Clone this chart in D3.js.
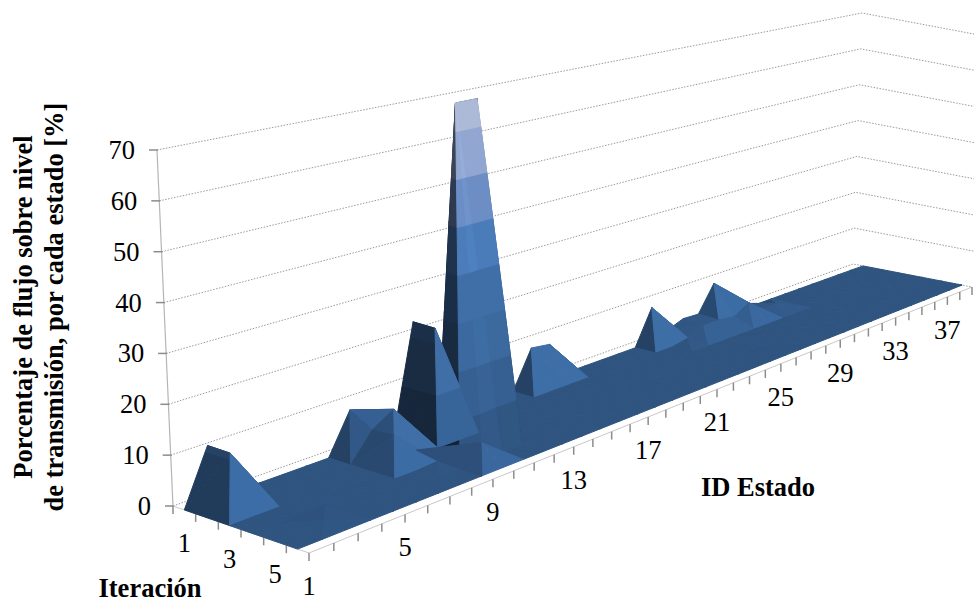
<!DOCTYPE html>
<html>
<head>
<meta charset="utf-8">
<script src="https://cdn.jsdelivr.net/npm/d3@7/dist/d3.min.js"></script>
<style>
html,body{margin:0;padding:0;background:#fff;}
svg{display:block;}
text{font-family:"Liberation Serif",serif;fill:#000;}
</style>
</head>
<body>
<svg id="chart" width="974" height="600"></svg>
<script>
// Flow percentage over transmission level, per state and iteration
const iterationLabels = [1, 2, 3, 4, 5, 6];
const shownIterations = [1, 3, 5];
const stateIds = d3.range(1, 40);
const shownStates = [1, 5, 9, 13, 17, 21, 25, 29, 33, 37];
const valueTicks = [0, 10, 20, 30, 40, 50, 60, 70];

const iteration1 = [0,11,0,0,0,0,0,8.5,0,0,23,0,0,0,0,0,8.6,8,0,0,0,0,0,8.5,1.5,3,2.8,9.3,3.4,1.5,0,0,0,0,0,0,0,0,0];
const iteration2 = [0,11,0,0,0,0,0,5.7,8.5,0,23,0,0,0,0,0,0,0,0,0,0,0,0,0,0.8,2.5,2.5,2,4.2,1,1.3,0,0,0,0,0,0,0,0];
const iteration3 = [0,0,0,0,0,0,0,6,1.2,0,0,0,0,0,0,0,0,0,0,0,0,0,0,0,0,0,0,0,0,0,0,0,0,0,0,0,0,0,0];
const iteration4 = [0,0,0,0,0,0,0,0,0.3,76,76,0,0,0,0,0,0,0,0,0,0,0,0,0,0,0,0,0,0,0,0,0,0,0,0,0,0,0,0];
const iteration5 = [0,0,0.3,0,0,0,0,0,0,4,0,0,0,0,0,0,0,0,0,0,0,0,0,0,0,0,0,0,0,0,0,0,0,0,0,0,0,0,0];
const iteration6 = [0,0,0,0,0,0,0,0,0,0,0,0,0,0,0,0,0,0,0,0,0,0,0,0,0,0,0,0,0,0,0,0,0,0,0,0,0,0,0];
const surface = [iteration1, iteration2, iteration3, iteration4, iteration5, iteration6];

// One colour per 10-point value band; lit faces stay below the ceiling colour
const bandColors = ["#2f5480", "#355e8e", "#3b679b", "#3f6fa8", "#4a7ab6", "#6a8bc1", "#8ea4cd", "#a9b6d4"];
const litCeiling = "#406ea6";
const footColor = "#2d4f79";

const svg = d3.select("#chart");

// Floor corners of the box on screen
const backLeft = [173, 506], frontLeft = [309, 553], frontRight = [972, 287], backRight = [853, 264];
const perspective = 1.44;

const uBand = d3.scaleBand().domain(iterationLabels).range([0, 1]);
const vPoint = d3.scalePoint().domain(stateIds).range([0, 1]);
const hScale = d3.scaleLinear().domain([0, 70]).range([0, 1]);

function project(u, v, h) {
  const t = perspective * v / (perspective * v + 1 - v);
  const lerp = k =>
    backLeft[k] * (1 - t) * (1 - u) + backRight[k] * t * (1 - u) +
    frontLeft[k] * (1 - t) * u + frontRight[k] * t * u;
  const x = lerp(0), y = lerp(1);
  const rise = (356 - 105 * t) * h;
  return [x + rise * (x - 551) * 0.000119, y - rise];
}

const uOf = i => uBand(iterationLabels[i]) + uBand.bandwidth() / 2;
const surfacePoint = p => project(p.i / iterationLabels.length + uOf(0), p.s / (stateIds.length - 1), hScale(p.z));

// Walls: value gridlines, then the floor edges
const gridPath = d3.line();
svg.append("g").selectAll("path").data(valueTicks).join("path")
  .attr("d", d => gridPath([project(0, 0, hScale(d)), project(0, 1, hScale(d)), project(1, 1, hScale(d))]))
  .attr("fill", "none").attr("stroke", "#808080").attr("stroke-width", 0.8).attr("stroke-dasharray", "1.5 1.5");

// Value axis
const axisZ = svg.append("g");
axisZ.append("path")
  .attr("d", gridPath([project(0, 0, 0), project(0, 0, hScale(70))]))
  .attr("fill", "none").attr("stroke", "#b5b5b5").attr("stroke-width", 1.2);
axisZ.selectAll("line").data(valueTicks).join("line")
  .attr("x1", d => project(0, 0, hScale(d))[0] - 8)
  .attr("x2", d => project(0, 0, hScale(d))[0] + 1)
  .attr("y1", d => project(0, 0, hScale(d))[1])
  .attr("y2", d => project(0, 0, hScale(d))[1])
  .attr("stroke", "#8c8c8c").attr("stroke-width", 1.5);
axisZ.selectAll("text").data(valueTicks).join("text")
  .attr("x", d => project(0, 0, hScale(d))[0] - 22)
  .attr("y", d => project(0, 0, hScale(d))[1] + 9)
  .attr("text-anchor", "end").attr("font-size", 26.5).text(d => d);

// Floor edge lines and tick marks
const floorAxis = svg.append("g");
floorAxis.append("path")
  .attr("d", gridPath([project(0, 0, 0), project(1, 0, 0), project(1, 1, 0)]))
  .attr("fill", "none").attr("stroke", "#c8c8c8").attr("stroke-width", 1);
floorAxis.selectAll("line.iter").data(d3.range(0, iterationLabels.length)).join("line")
  .attr("class", "iter")
  .attr("x1", d => project(d / iterationLabels.length, 0, 0)[0])
  .attr("x2", d => project(d / iterationLabels.length, 0, 0)[0])
  .attr("y1", d => project(d / iterationLabels.length, 0, 0)[1])
  .attr("y2", d => project(d / iterationLabels.length, 0, 0)[1] + 8)
  .attr("stroke", "#8c8c8c").attr("stroke-width", 1.5);
floorAxis.selectAll("line.state").data(stateIds).join("line")
  .attr("class", "state")
  .attr("x1", d => project(1, vPoint(d), 0)[0])
  .attr("x2", d => project(1, vPoint(d), 0)[0])
  .attr("y1", d => project(1, vPoint(d), 0)[1])
  .attr("y2", d => project(1, vPoint(d), 0)[1] + 8)
  .attr("stroke", "#8c8c8c").attr("stroke-width", 1.5);

// Keep only the part of a triangle inside one value band
function clipBand(poly, lo, hi) {
  const clip = (pts, keep, limit) => {
    const out = [];
    pts.forEach((p, k) => {
      const q = pts[(k + 1) % pts.length];
      const pin = keep(p.z), qin = keep(q.z);
      if (pin) out.push(p);
      if (pin !== qin) {
        const r = (limit - p.z) / (q.z - p.z);
        out.push({ i: p.i + (q.i - p.i) * r, s: p.s + (q.s - p.s) * r, z: limit });
      }
    });
    return out;
  };
  return clip(clip(poly, z => z >= lo, lo), z => z <= hi, hi);
}

// Directional shading from the face normal
function shade(a, b, c) {
  const zs = 0.1;
  const e1 = [b.i - a.i, b.s - a.s, (b.z - a.z) * zs];
  const e2 = [c.i - a.i, c.s - a.s, (c.z - a.z) * zs];
  let n = [e1[1] * e2[2] - e1[2] * e2[1], e1[2] * e2[0] - e1[0] * e2[2], e1[0] * e2[1] - e1[1] * e2[0]];
  const len = Math.hypot(...n) || 1;
  n = n.map(d => d / len);
  if (n[2] < 0) n = n.map(d => -d);
  return Math.max(0.42, 0.11 + 0.8 * n[0] + 0.89 * n[2] + 0.6 * Math.max(n[1], 0));
}

function tint(color, factor, band) {
  const c = d3.rgb(color), top = d3.rgb(litCeiling);
  const limit = (v, cap) => Math.min(band <= 3 ? Math.max(cap, v) : 255, v * factor);
  return d3.rgb(limit(c.r, top.r), limit(c.g, top.g), limit(c.b, top.b)).formatHex();
}

// Paint groups: far floor, tall column, the ridges overlapping it, then the near states
const paintGroup = (i, s) => s >= 11 ? 0 : s >= 8 ? (i >= 2 ? 1 : 2) : 3;
const cells = [];
for (let s = 0; s < stateIds.length - 1; s++) {
  for (let i = 0; i < iterationLabels.length - 1; i++) cells.push({ i, s });
}
cells.sort((p, q) => d3.ascending(paintGroup(p.i, p.s), paintGroup(q.i, q.s)) || d3.descending(p.s, q.s) || d3.ascending(p.i, q.i));

// Each cell folds along its higher diagonal, except two cells around the tall column
const flippedFold = (i, s) => (i === 2 && s === 8) || (i === 3 && s === 9);
const vertex = (i, s) => ({ i, s, z: surface[i][s] });
const facets = [];
cells.forEach(({ i, s }) => {
  const a = vertex(i, s), b = vertex(i + 1, s), c = vertex(i + 1, s + 1), d = vertex(i, s + 1);
  const mainFold = (a.z + c.z >= b.z + d.z) !== flippedFold(i, s);
  const tris = mainFold ? [[a, d, c], [a, c, b]] : [[a, b, d], [b, c, d]];
  tris.forEach(tri => {
    const f = shade(tri[0], tri[1], tri[2]);
    bandColors.forEach((col, k) => {
      const piece = clipBand(tri, k * 10, (k + 1) * 10);
      if (piece.length >= 3) facets.push({ piece, color: tint(col, f, k) });
    });
  });
});

// Low foot of the tall column, spanning iterations 3 to 6 around states 9 and 10
const footIteration = [2, 4, 5, 3];
const footState = [8, 9, 8, 8];
facets.push({ piece: footIteration.map((it, k) => vertex(it, footState[k])), color: footColor });

const facetPath = d3.line().x(p => p[0]).y(p => p[1]).curve(d3.curveLinearClosed);
svg.append("g").selectAll("path").data(facets).join("path")
  .attr("d", d => facetPath(d.piece.map(surfacePoint)))
  .attr("fill", d => d.color).attr("stroke", d => d.color).attr("stroke-width", 1).attr("stroke-linejoin", "round");

// Category labels
const labels = svg.append("g").attr("font-size", 26.5).attr("text-anchor", "middle");
labels.selectAll("text.iter").data(shownIterations).join("text")
  .attr("class", "iter")
  .attr("x", d => project(uOf(d - 1), 0, 0)[0])
  .attr("y", d => project(uOf(d - 1), 0, 0)[1] + 42).text(d => d);
labels.selectAll("text.state").data(shownStates).join("text")
  .attr("class", "state")
  .attr("x", d => project(1, vPoint(d), 0)[0])
  .attr("y", d => project(1, vPoint(d), 0)[1] + 42).text(d => d);

// Axis titles
const titles = svg.append("g").attr("font-size", 26.5).attr("font-weight", "bold");
titles.append("text").attr("x", 150).attr("y", 597).attr("text-anchor", "middle").text("Iteración");
titles.append("text").attr("x", 758).attr("y", 496).attr("text-anchor", "middle").text("ID Estado");
const yTitle = titles.append("text").attr("text-anchor", "middle").attr("transform", "translate(0,307) rotate(-90)");
yTitle.append("tspan").attr("x", 0).attr("y", 32).text("Porcentaje de flujo sobre nivel");
yTitle.append("tspan").attr("x", 0).attr("y", 63).text("de transmisión, por cada estado [%]");
</script>
</body>
</html>
